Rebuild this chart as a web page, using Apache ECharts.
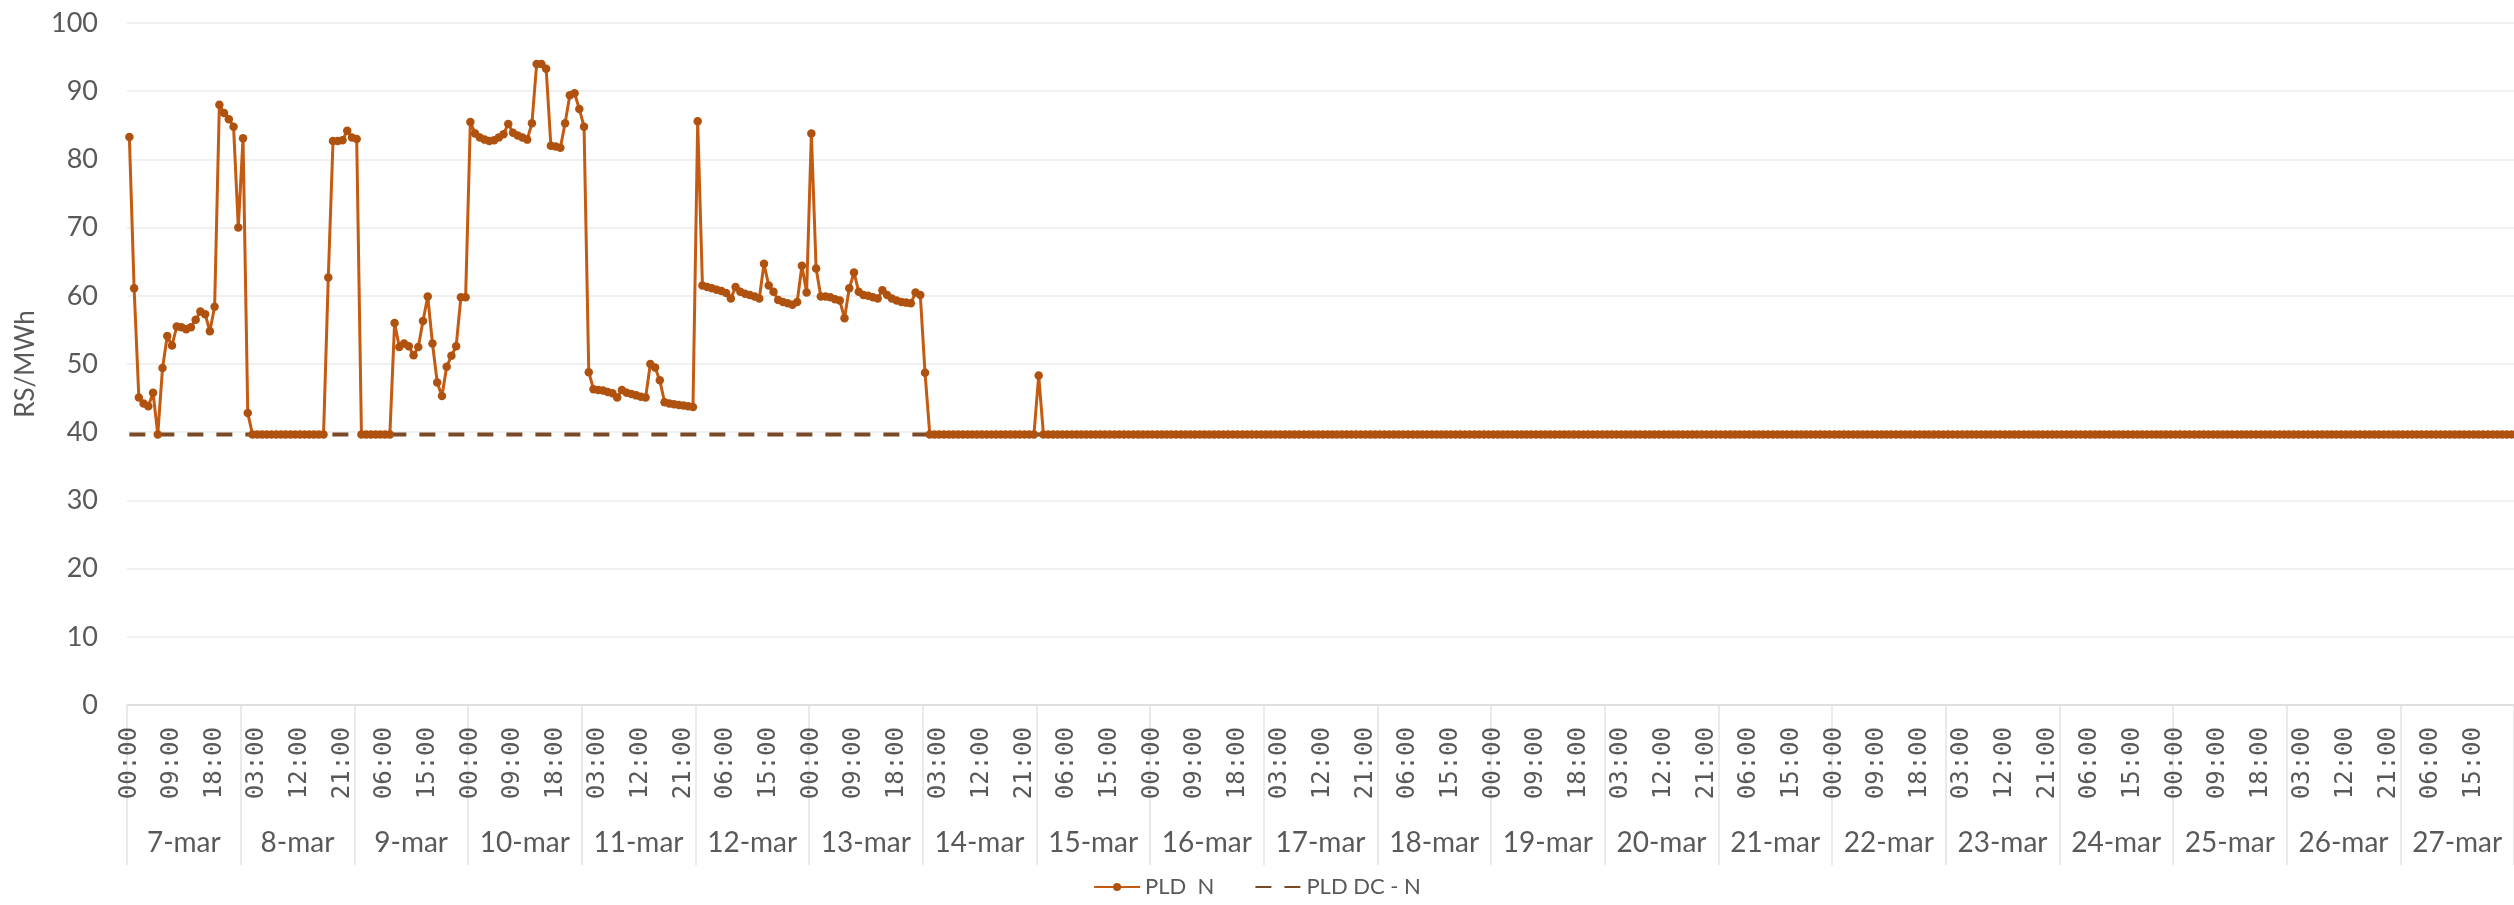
<!DOCTYPE html>
<html>
<head>
<meta charset="utf-8">
<title>PLD N</title>
<script src="https://cdn.jsdelivr.net/npm/echarts@6/dist/echarts.min.js"></script>
<style>
  html, body { margin: 0; padding: 0; background: #ffffff; }
  #chart { width: 2514px; height: 905px; }
</style>
</head>
<body>
<div id="chart"></div>
<script>
// Days shown on the lower axis row
const days = ['7-mar', '8-mar', '9-mar', '10-mar', '11-mar', '12-mar', '13-mar',
  '14-mar', '15-mar', '16-mar', '17-mar', '18-mar', '19-mar', '20-mar', '21-mar',
  '22-mar', '23-mar', '24-mar', '25-mar', '26-mar', '27-mar'];

// Hours of each day (upper axis row)
const hours = ['00:00', '01:00', '02:00', '03:00', '04:00', '05:00', '06:00', '07:00',
  '08:00', '09:00', '10:00', '11:00', '12:00', '13:00', '14:00', '15:00',
  '16:00', '17:00', '18:00', '19:00', '20:00', '21:00', '22:00', '23:00'];

// Hourly PLD, North submarket (R$/MWh), one line per day
const pldN = [
  83.3, 61.1, 45.1, 44.2, 43.8, 45.8, 39.68, 49.4, 54.1, 52.7, 55.5, 55.4, 55.1, 55.4, 56.5, 57.7, 57.3, 54.8, 58.4, 88.0, 86.8, 85.9, 84.8, 70.0,
  83.1, 42.8, 39.68, 39.68, 39.68, 39.68, 39.68, 39.68, 39.68, 39.68, 39.68, 39.68, 39.68, 39.68, 39.68, 39.68, 39.68, 39.68, 62.7, 82.7, 82.7, 82.8, 84.2, 83.2,
  83.0, 39.68, 39.68, 39.68, 39.68, 39.68, 39.68, 39.68, 56.0, 52.5, 53.0, 52.6, 51.3, 52.5, 56.3, 59.9, 53.0, 47.3, 45.3, 49.6, 51.2, 52.6, 59.8, 59.8,
  85.5, 83.8, 83.2, 82.9, 82.7, 82.8, 83.2, 83.7, 85.2, 83.9, 83.5, 83.2, 82.9, 85.3, 94.0, 94.0, 93.3, 82.0, 81.9, 81.7, 85.3, 89.4, 89.7, 87.4,
  84.8, 48.8, 46.3, 46.2, 46.1, 45.9, 45.7, 45.1, 46.2, 45.8, 45.6, 45.4, 45.2, 45.1, 50.0, 49.5, 47.6, 44.4, 44.2, 44.1, 44.0, 43.9, 43.8, 43.7,
  85.6, 61.5, 61.3, 61.1, 60.9, 60.7, 60.4, 59.6, 61.3, 60.6, 60.3, 60.1, 59.9, 59.6, 64.7, 61.5, 60.6, 59.4, 59.1, 58.9, 58.7, 59.1, 64.4, 60.5,
  83.8, 64.0, 59.9, 59.9, 59.8, 59.5, 59.3, 56.7, 61.1, 63.4, 60.6, 60.1, 60.0, 59.8, 59.6, 60.8, 60.1, 59.6, 59.3, 59.1, 59.0, 58.9, 60.5, 60.1,
  48.7, 39.68, 39.68, 39.68, 39.68, 39.68, 39.68, 39.68, 39.68, 39.68, 39.68, 39.68, 39.68, 39.68, 39.68, 39.68, 39.68, 39.68, 39.68, 39.68, 39.68, 39.68, 39.68, 39.68,
  48.3, 39.68, 39.68, 39.68, 39.68, 39.68, 39.68, 39.68, 39.68, 39.68, 39.68, 39.68, 39.68, 39.68, 39.68, 39.68, 39.68, 39.68, 39.68, 39.68, 39.68, 39.68, 39.68, 39.68,
  39.68, 39.68, 39.68, 39.68, 39.68, 39.68, 39.68, 39.68, 39.68, 39.68, 39.68, 39.68, 39.68, 39.68, 39.68, 39.68, 39.68, 39.68, 39.68, 39.68, 39.68, 39.68, 39.68, 39.68,
  39.68, 39.68, 39.68, 39.68, 39.68, 39.68, 39.68, 39.68, 39.68, 39.68, 39.68, 39.68, 39.68, 39.68, 39.68, 39.68, 39.68, 39.68, 39.68, 39.68, 39.68, 39.68, 39.68, 39.68,
  39.68, 39.68, 39.68, 39.68, 39.68, 39.68, 39.68, 39.68, 39.68, 39.68, 39.68, 39.68, 39.68, 39.68, 39.68, 39.68, 39.68, 39.68, 39.68, 39.68, 39.68, 39.68, 39.68, 39.68,
  39.68, 39.68, 39.68, 39.68, 39.68, 39.68, 39.68, 39.68, 39.68, 39.68, 39.68, 39.68, 39.68, 39.68, 39.68, 39.68, 39.68, 39.68, 39.68, 39.68, 39.68, 39.68, 39.68, 39.68,
  39.68, 39.68, 39.68, 39.68, 39.68, 39.68, 39.68, 39.68, 39.68, 39.68, 39.68, 39.68, 39.68, 39.68, 39.68, 39.68, 39.68, 39.68, 39.68, 39.68, 39.68, 39.68, 39.68, 39.68,
  39.68, 39.68, 39.68, 39.68, 39.68, 39.68, 39.68, 39.68, 39.68, 39.68, 39.68, 39.68, 39.68, 39.68, 39.68, 39.68, 39.68, 39.68, 39.68, 39.68, 39.68, 39.68, 39.68, 39.68,
  39.68, 39.68, 39.68, 39.68, 39.68, 39.68, 39.68, 39.68, 39.68, 39.68, 39.68, 39.68, 39.68, 39.68, 39.68, 39.68, 39.68, 39.68, 39.68, 39.68, 39.68, 39.68, 39.68, 39.68,
  39.68, 39.68, 39.68, 39.68, 39.68, 39.68, 39.68, 39.68, 39.68, 39.68, 39.68, 39.68, 39.68, 39.68, 39.68, 39.68, 39.68, 39.68, 39.68, 39.68, 39.68, 39.68, 39.68, 39.68,
  39.68, 39.68, 39.68, 39.68, 39.68, 39.68, 39.68, 39.68, 39.68, 39.68, 39.68, 39.68, 39.68, 39.68, 39.68, 39.68, 39.68, 39.68, 39.68, 39.68, 39.68, 39.68, 39.68, 39.68,
  39.68, 39.68, 39.68, 39.68, 39.68, 39.68, 39.68, 39.68, 39.68, 39.68, 39.68, 39.68, 39.68, 39.68, 39.68, 39.68, 39.68, 39.68, 39.68, 39.68, 39.68, 39.68, 39.68, 39.68,
  39.68, 39.68, 39.68, 39.68, 39.68, 39.68, 39.68, 39.68, 39.68, 39.68, 39.68, 39.68, 39.68, 39.68, 39.68, 39.68, 39.68, 39.68, 39.68, 39.68, 39.68, 39.68, 39.68, 39.68,
  39.68, 39.68, 39.68, 39.68, 39.68, 39.68, 39.68, 39.68, 39.68, 39.68, 39.68, 39.68, 39.68, 39.68, 39.68, 39.68, 39.68, 39.68, 39.68, 39.68, 39.68, 39.68, 39.68, 39.68
];

// Daily PLD DC for the North submarket (R$/MWh), one value per day
const pldDcN = [39.68, 39.68, 39.68, 39.68, 39.68, 39.68, 39.68, 39.68, 39.68, 39.68, 39.68,
  39.68, 39.68, 39.68, 39.68, 39.68, 39.68, 39.68, 39.68, 39.68, 39.68];

const seriesNames = ['PLD  N', 'PLD DC - N'];
const yAxisTitle = 'RS/MWh';

// Hourly category keys ("day hour") and the daily value held across each hour
const hourKeys = [];
const pldDcHourly = [];
days.forEach(function (d, di) {
  hours.forEach(function (h) {
    hourKeys.push(d + ' ' + h);
    pldDcHourly.push(pldDcN[di]);
  });
});

const textGray = '#595959';
const lineGray = '#d9d9d9';
const orange = '#c55a11';
const markerOrange = '#b0520f';
const dashBrown = '#7a4a28';

const chart = echarts.init(document.getElementById('chart'), null, { renderer: 'canvas' });
chart.setOption({
  animation: false,
  backgroundColor: '#ffffff',
  textStyle: { fontFamily: 'Lato, "Liberation Sans", sans-serif' },
  grid: { left: 127, right: -2, top: 23, bottom: 200, containLabel: false },
  legend: {
    data: [
      { name: seriesNames[0] },
      { name: seriesNames[1], itemStyle: { opacity: 0 } }
    ],
    left: 'center',
    top: 871,
    itemWidth: 46,
    itemHeight: 10,
    itemGap: 40,
    textStyle: { fontSize: 22, color: textGray, fontFamily: 'Lato, sans-serif' }
  },
  xAxis: [
    {
      type: 'category',
      data: hourKeys,
      boundaryGap: true,
      position: 'bottom',
      axisLine: { show: true, lineStyle: { color: lineGray, width: 1.5 } },
      axisTick: { show: false },
      splitLine: { show: false },
      axisLabel: {
        interval: 8,
        rotate: 90,
        margin: 22,
        fontSize: 24,
        color: textGray,
        fontFamily: '"DejaVu Sans Mono", monospace',
        formatter: function (v) { return v.split(' ')[1]; }
      }
    },
    {
      type: 'category',
      data: days,
      boundaryGap: true,
      position: 'bottom',
      axisLine: { show: false },
      axisTick: { show: true, interval: 0, length: 160, lineStyle: { color: '#e4e4e4', width: 1.5 } },
      splitLine: { show: false },
      axisLabel: {
        interval: 0,
        margin: 124,
        fontSize: 28,
        color: textGray,
        fontFamily: 'Lato, sans-serif'
      }
    }
  ],
  yAxis: {
    type: 'value',
    min: 0,
    max: 100,
    interval: 10,
    name: yAxisTitle,
    nameLocation: 'middle',
    nameGap: 88,
    nameRotate: 90,
    nameTextStyle: { fontSize: 26, color: textGray, fontFamily: 'Lato, sans-serif' },
    axisLine: { show: false },
    axisTick: { show: false },
    axisLabel: { margin: 29, fontSize: 27, color: textGray, fontFamily: 'Lato, sans-serif' },
    splitLine: { show: true, lineStyle: { color: '#ebebeb', width: 1.5 } }
  },
  series: [
    {
      name: seriesNames[0],
      type: 'line',
      xAxisIndex: 0,
      data: pldN,
      z: 3,
      showAllSymbol: true,
      symbol: 'circle',
      symbolSize: 8.5,
      lineStyle: { color: orange, width: 3 },
      itemStyle: { color: markerOrange }
    },
    {
      name: seriesNames[1],
      type: 'line',
      xAxisIndex: 0,
      data: pldDcHourly,
      z: 2,
      symbol: 'none',
      lineStyle: { color: dashBrown, width: 4, type: [16, 13] },
      itemStyle: { color: dashBrown }
    }
  ]
});
</script>
</body>
</html>
